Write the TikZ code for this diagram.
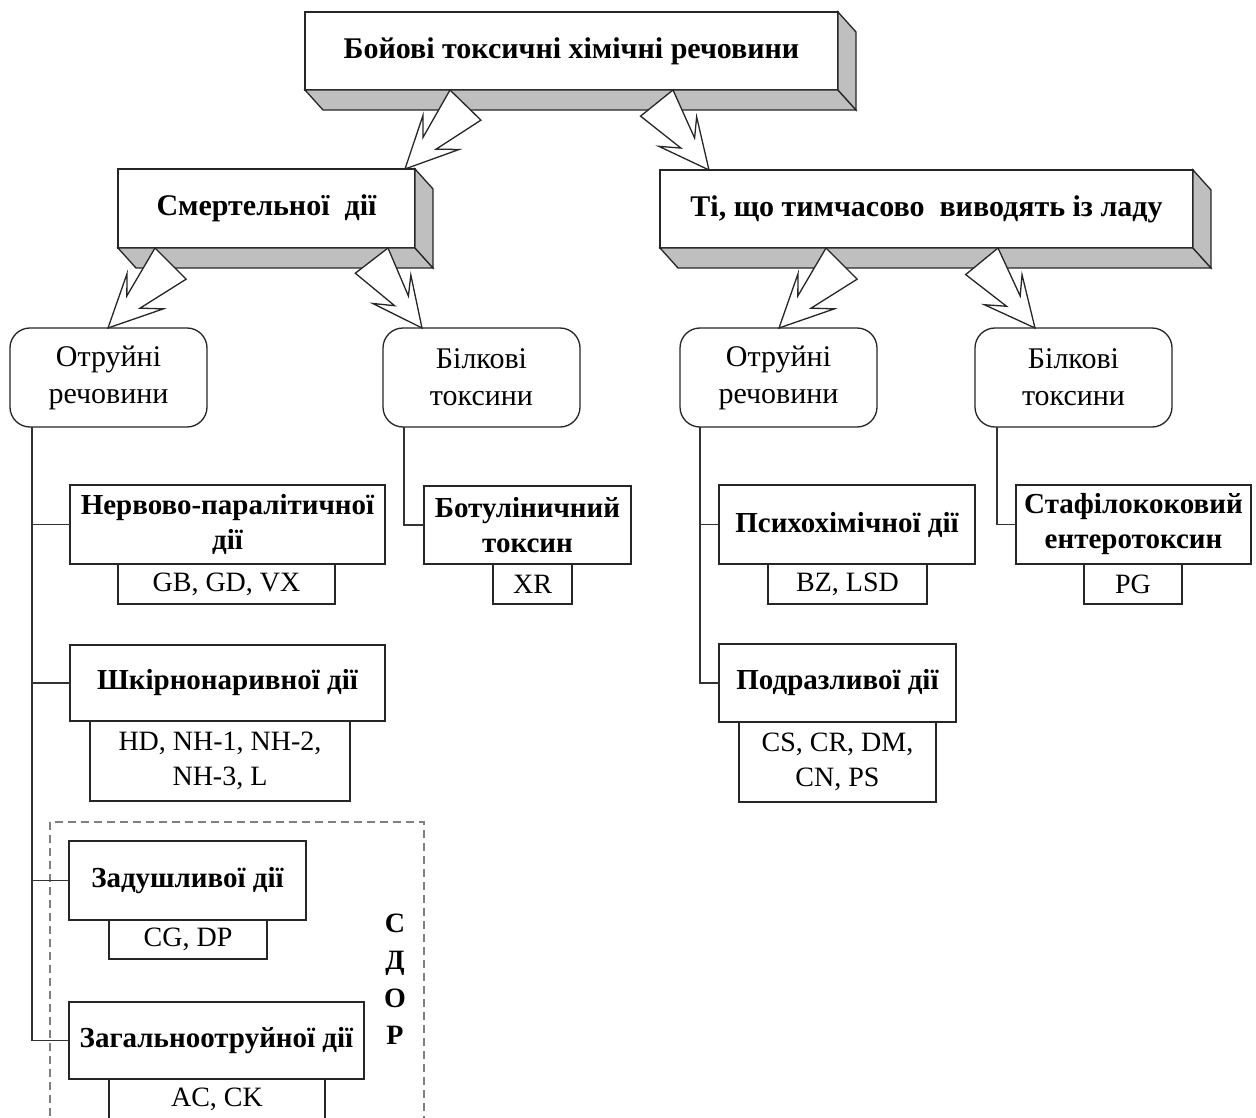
\documentclass[tikz,border=0pt]{standalone}
\usepackage{fontspec}
\setmainfont{Liberation Serif}
\usetikzlibrary{calc}

\tikzset{
  ln/.style={draw=black!85, line width=1.3pt},
  front/.style={ln, fill=white, inner sep=0pt, outer sep=0pt, align=center, font=\fontsize{30}{36}\selectfont\bfseries},
  face/.style={ln, fill=black!25, line join=miter},
  rbox/.style={ln, fill=white, rounded corners=20pt, inner sep=0pt, outer sep=0pt, minimum width=197pt, minimum height=99pt, align=center, font=\fontsize{30}{37}\selectfont},
  cat/.style={ln, fill=white, inner sep=0pt, outer sep=0pt, align=center, font=\fontsize{29}{35}\selectfont\bfseries},
  sub/.style={ln, fill=white, inner sep=0pt, outer sep=0pt, align=center, font=\fontsize{28}{35}\selectfont},
  tree/.style={draw=black!80, line width=1.2pt},
  zarrowsty/.style={ln, fill=white, line join=miter},
  dashbox/.style={draw=black!50, line width=1.2pt, dash pattern=on 8pt off 5pt},
  sdor/.style={font=\fontsize{28}{37.5}\selectfont\bfseries, align=center, inner sep=0pt},
}

\newcommand\threedfaces[1]{%
  \filldraw[face] (#1.south west) -- ++(18,20) -- ([shift={(18,20)}]#1.south east) -- (#1.south east) -- cycle;
  \filldraw[face] (#1.south east) -- ([shift={(18,20)}]#1.south east) -- ([shift={(18,20)}]#1.north east) -- (#1.north east) -- cycle;
}
\newcommand\zarrow[3]{%
  \pgfmathsetmacro\zaA{#3*75.4}%
  \pgfmathsetmacro\zaB{#3*16.5}%
  \pgfmathsetmacro\zaC{#3*38.3}%
  \pgfmathsetmacro\zaD{#3*(-17.1)}%
  \draw[zarrowsty] (#1) -- ($(#1)!0.475!\zaA:(#2)$) -- ($(#1)!0.668!\zaB:(#2)$)
    -- ($(#1)!0.662!\zaC:(#2)$) -- (#2) -- ($(#1)!0.408!\zaD:(#2)$)
    -- ($(#1)!0.6!(#2)$) -- cycle;
}

\begin{document}
\begin{tikzpicture}[x=1pt, y=-1pt]
\useasboundingbox (0,0) rectangle (1256,1118);
\clip (0,0) rectangle (1256,1118);
\fill[white] (0,0) rectangle (1256,1118);

% dashed group frame
\draw[dashbox] (50,822) rectangle (424,1150);

% level 1 and 2: 3D boxes
\node[front, minimum width=533pt, minimum height=78pt] (top) at (571.5,51) {Бойові токсичні хімічні речовини};
\threedfaces{top}
\node[front, minimum width=297pt, minimum height=79pt] (smert) at (266.5,208.5) {Смертельної~~дії};
\threedfaces{smert}
\node[front, minimum width=533pt, minimum height=78pt] (ti) at (926.5,209) {Ті, що тимчасово~~виводять із ладу};
\threedfaces{ti}

% level 3: rounded boxes
\node[rbox] (r1) at (108.5,377.5) {Отруйні\\речовини};
\node[rbox] (r2) at (481.5,377.5) {Білкові\\токсини};
\node[rbox] (r3) at (778.5,377.5) {Отруйні\\речовини};
\node[rbox] (r4) at (1073.5,377.5) {Білкові\\токсини};

% level 4: categories
\node[cat, minimum width=315pt, minimum height=79pt] (c1) at (227.5,524.5) {Нервово-паралітичної\\дії};
\node[sub, minimum width=217pt, minimum height=40pt] (s1) at (226.5,584) {GB, GD, VX};
\node[cat, minimum width=315pt, minimum height=76pt] (c2) at (227.5,683) {Шкірнонаривної дії};
\node[sub, minimum width=260pt, minimum height=80pt] (s2) at (220,761) {HD, NH-1, NH-2,\\NH-3, L};
\node[cat, minimum width=237pt, minimum height=79pt] (c3) at (187.5,880.5) {Задушливої дії};
\node[sub, minimum width=158pt, minimum height=39pt] (s3) at (188,939.5) {CG, DP};
\node[cat, minimum width=295pt, minimum height=77pt] (c4) at (216.5,1040.5) {Загальноотруйної дії};
\node[sub, minimum width=216pt, minimum height=40pt] (s4) at (217,1099) {AC, CK};
\node[sdor] (sdor) at (395,979) {С\\Д\\О\\Р};

\node[cat, minimum width=207pt, minimum height=78pt] (c5) at (527.5,525) {Ботуліничний\\токсин};
\node[sub, minimum width=79pt, minimum height=40pt] (s5) at (532.5,584) {XR};

\node[cat, minimum width=256pt, minimum height=79pt] (c6) at (847,524.5) {Психохімічної дії};
\node[sub, minimum width=159pt, minimum height=40pt] (s6) at (847.5,584) {BZ, LSD};
\node[cat, minimum width=237pt, minimum height=78pt] (c7) at (837.5,683) {Подразливої дії};
\node[sub, minimum width=197pt, minimum height=80pt] (s7) at (837.5,762) {CS, CR, DM,\\CN, PS};

\node[cat, minimum width=235pt, minimum height=79pt] (c8) at (1133.5,524.5) {Стафілококовий\\ентеротоксин};
\node[sub, minimum width=98pt, minimum height=40pt] (s8) at (1133,584) {PG};

% tree connectors
\coordinate (t1) at ([xshift=22]r1.south west);
\coordinate (t2) at ([xshift=21]r2.south west);
\coordinate (t3) at ([xshift=20]r3.south west);
\coordinate (t4) at ([xshift=22]r4.south west);
\draw[tree] (t1) |- (c4.west);
\foreach \c in {c1,c2,c3} \draw[tree] (\c.west) -- (\c.west -| t1);
\draw[tree] (t2) |- (c5.west);
\draw[tree] (t3) |- (c7.west);
\draw[tree] (c6.west) -- (c6.west -| t3);
\draw[tree] (t4) |- (c8.west);

% zigzag block arrows
\coordinate (a1s) at ([xshift=145]top.south west);
\coordinate (a1e) at ([xshift=287]smert.north west);
\coordinate (a2s) at ([xshift=368]top.south west);
\coordinate (a2e) at ([xshift=49]ti.north west);
\coordinate (a3s) at ([xshift=37]smert.south west);
\coordinate (a3e) at ([xshift=98]r1.north west);
\coordinate (a4s) at ([xshift=270]smert.south west);
\coordinate (a4e) at ([xshift=39]r2.north west);
\coordinate (a5s) at ([xshift=166]ti.south west);
\coordinate (a5e) at ([xshift=99]r3.north west);
\coordinate (a6s) at ([xshift=338]ti.south west);
\coordinate (a6e) at ([xshift=60]r4.north west);
\zarrow{a1s}{a1e}{1}
\zarrow{a2s}{a2e}{-1}
\zarrow{a3s}{a3e}{1}
\zarrow{a4s}{a4e}{-1}
\zarrow{a5s}{a5e}{1}
\zarrow{a6s}{a6e}{-1}
\end{tikzpicture}
\end{document}
